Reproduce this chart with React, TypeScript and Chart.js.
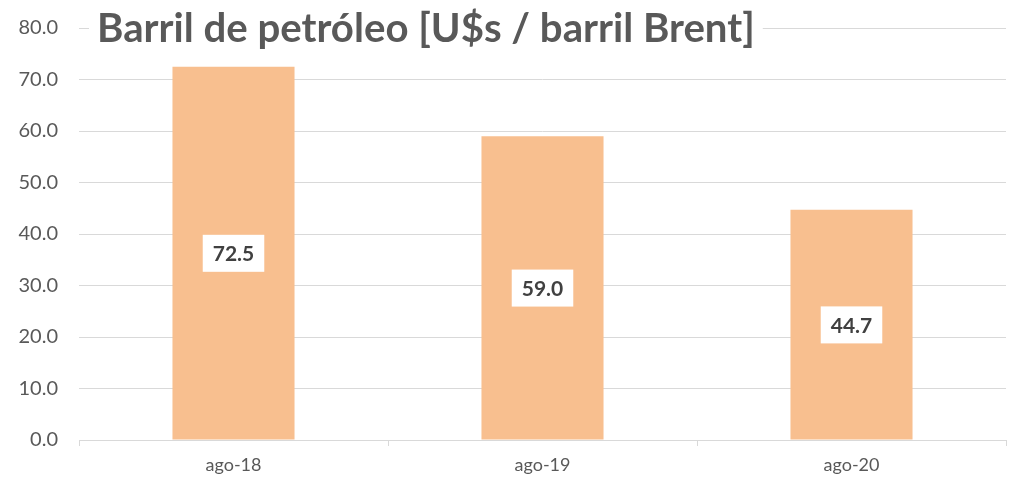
import React, { useEffect, useRef } from "react";
import { Chart, registerables } from "chart.js";

Chart.register(...registerables);

const categories = ["ago-18", "ago-19", "ago-20"];
const values = [72.5, 59.0, 44.7];
const titleText = "Barril de petróleo [U$s / barril Brent]";
const yMin = 0;
const yMax = 80;
const yStep = 10;

const labelPlugin = {
  id: "labelsAndTitle",
  afterDatasetsDraw(chart: any) {
    const ctx = chart.ctx;
    const meta = chart.getDatasetMeta(0);
    const ys = chart.scales.y;
    ctx.save();
    ctx.font = "bold 21px Lato, 'Open Sans', sans-serif";
    ctx.textAlign = "center";
    ctx.textBaseline = "middle";
    meta.data.forEach((bar: any, i: number) => {
      const v = values[i];
      const yc = ys.getPixelForValue(v / 2);
      const txt = v.toFixed(1);
      const w = ctx.measureText(txt).width + 20;
      const h = 37;
      ctx.fillStyle = "#ffffff";
      ctx.fillRect(bar.x - w / 2, yc - h / 2, w, h);
      ctx.fillStyle = "#404040";
      ctx.fillText(txt, bar.x, yc + 1);
    });
    // title
    const ty = ys.getPixelForValue(yMax);
    let size = 32;
    ctx.font = `bold ${size}px Lato, 'Open Sans', sans-serif`;
    const target = 658;
    const mw = ctx.measureText(titleText).width;
    size = size * target / mw;
    ctx.font = `bold ${size}px Lato, 'Open Sans', sans-serif`;
    const tw = ctx.measureText(titleText).width;
    const tx = 97;
    ctx.fillStyle = "#ffffff";
    ctx.fillRect(tx - 8, ty - 20, tw + 16, 40);
    ctx.fillStyle = "#595959";
    ctx.textAlign = "left";
    ctx.textBaseline = "middle";
    ctx.fillText(titleText, tx, ty + 1);
    ctx.restore();
  },
};

export default function App() {
  const ref = useRef<HTMLCanvasElement>(null);
  useEffect(() => {
    document.body.style.margin = "0";
    const chart = new Chart(ref.current!, {
      type: "bar",
      data: {
        labels: categories,
        datasets: [
          {
            data: values,
            backgroundColor: "#f8bf8f",
            barPercentage: 0.79,
            categoryPercentage: 0.5,
          },
        ],
      },
      options: {
        responsive: false,
        animation: false,
        layout: { padding: { top: 28, right: 5, left: 0, bottom: 0 } },
        plugins: { legend: { display: false }, tooltip: { enabled: false }, title: { display: false } },
        scales: {
          x: {
            grid: {
              display: true,
              drawOnChartArea: false,
              drawTicks: true,
              tickLength: 6,
              color: "#d9d9d9",
              offset: true,
            },
            border: { color: "#d9d9d9", width: 1 },
            ticks: {
              color: "#595959",
              font: { size: 18, family: "Lato, 'Open Sans', sans-serif" },
              padding: 8,
            },
            afterFit(scale: any) {
              scale.height = 51;
              scale.paddingLeft = 0;
              scale.paddingRight = 0;
            },
          },
          y: {
            min: yMin,
            max: yMax,
            grid: { color: "#d9d9d9", drawTicks: false, lineWidth: 1 },
            border: { display: false },
            ticks: {
              stepSize: yStep,
              color: "#595959",
              font: { size: 20, family: "Lato, 'Open Sans', sans-serif" },
              padding: 21,
              callback: (v: any) => Number(v).toFixed(1),
            },
            afterFit(scale: any) {
              scale.width = 79;
              scale.paddingTop = 0;
              scale.paddingBottom = 0;
            },
          },
        },
      },
      plugins: [labelPlugin],
    });
    return () => chart.destroy();
  }, []);
  return (
    <div style={{ position: "absolute", left: 0, top: 0, width: 1011, height: 491, background: "#fff" }}>
      <canvas ref={ref} width={1011} height={491} />
    </div>
  );
}
